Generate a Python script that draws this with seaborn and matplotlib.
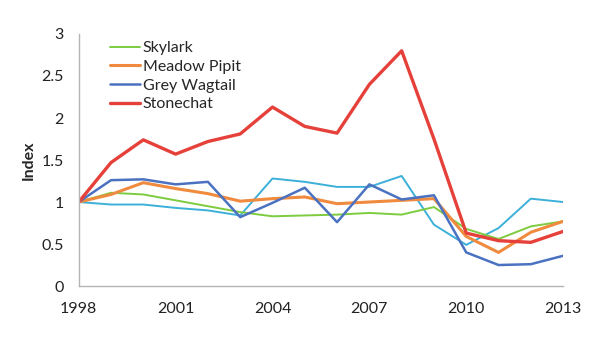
import numpy as np
import pandas as pd
import matplotlib
matplotlib.use('Agg')
import matplotlib.pyplot as plt
import seaborn as sns

years = list(range(1998, 2014))
skylark = [1.0, 1.11, 1.09, 1.02, 0.95, 0.88, 0.83, 0.84, 0.85, 0.87, 0.85, 0.94, 0.68, 0.56, 0.71, 0.77]
meadow_pipit = [1.0, 1.09, 1.23, 1.16, 1.10, 1.01, 1.04, 1.06, 0.98, 1.00, 1.02, 1.04, 0.59, 0.40, 0.64, 0.77]
grey_wagtail = [1.0, 1.26, 1.27, 1.21, 1.24, 0.82, 0.99, 1.17, 0.76, 1.21, 1.03, 1.08, 0.40, 0.25, 0.26, 0.36]
stonechat = [1.0, 1.47, 1.74, 1.57, 1.72, 1.81, 2.13, 1.90, 1.82, 2.40, 2.80, 1.75, 0.63, 0.54, 0.52, 0.65]
other = [1.0, 0.97, 0.97, 0.93, 0.90, 0.84, 1.28, 1.24, 1.18, 1.18, 1.31, 0.73, 0.49, 0.69, 1.04, 1.00]

sns.set_theme(style='white')
plt.rcParams['font.family'] = ['Lato', 'DejaVu Sans']

fig, ax = plt.subplots(figsize=(6.01, 3.54), dpi=100)
fig.subplots_adjust(left=0.131, right=0.937, top=0.904, bottom=0.192)

sns.lineplot(x=years, y=other, color='#3cb0d9', linewidth=1.4, ax=ax, legend=False)
sns.lineplot(x=years, y=skylark, color='#7dcb3f', linewidth=1.4, label='Skylark', ax=ax)
sns.lineplot(x=years, y=meadow_pipit, color='#ef8a3e', linewidth=2.2, label='Meadow Pipit', ax=ax)
sns.lineplot(x=years, y=grey_wagtail, color='#4a72c0', linewidth=1.8, label='Grey Wagtail', ax=ax)
sns.lineplot(x=years, y=stonechat, color='#e5413a', linewidth=2.4, label='Stonechat', ax=ax)

ax.set_xlim(1998, 2013)
ax.set_ylim(0, 3)
ax.set_xticks([1998, 2001, 2004, 2007, 2010, 2013])
ax.set_yticks([0, 0.5, 1, 1.5, 2, 2.5, 3])
ax.set_yticklabels(['0', '0.5', '1', '1.5', '2', '2.5', '3'])
ax.tick_params(axis='both', labelsize=11.5, colors='#222222', width=0.8)
ax.tick_params(axis='x', direction='inout', length=7, pad=8, color='#b5b5b5')
ax.tick_params(axis='y', direction='out', length=4, pad=7, color='#b5b5b5')
ax.set_ylabel('Index', fontsize=11.5, fontweight='bold', labelpad=4)
ax.set_xlabel('')

for s in ['top', 'right']:
    ax.spines[s].set_visible(False)
for s in ['left', 'bottom']:
    ax.spines[s].set_color('#b5b5b5')
    ax.spines[s].set_linewidth(1.0)

leg = ax.legend(loc='upper left', bbox_to_anchor=(0.045, 1.01), frameon=False,
                fontsize=11.5, handlelength=1.9, handletextpad=0.15,
                labelspacing=0.28, borderaxespad=0.2)

fig.savefig('out.png', dpi=100)
